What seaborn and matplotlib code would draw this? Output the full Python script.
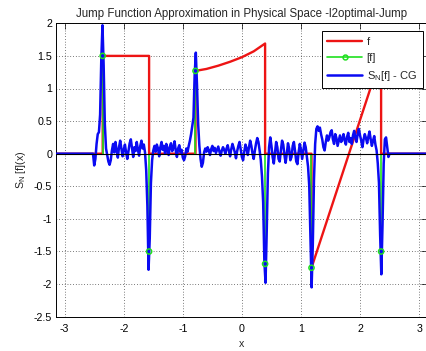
import numpy as np
import matplotlib
matplotlib.use("Agg")
import matplotlib.pyplot as plt
from matplotlib.lines import Line2D
from matplotlib.legend_handler import HandlerLine2D
import seaborn as sns

# ---------------- data ----------------
title = "Jump Function Approximation in Physical Space -l2optimal-Jump"

# f : piecewise function (x with repeated points at the jumps)
f_x = [-np.pi, -3*np.pi/4, -3*np.pi/4, -np.pi/2, -np.pi/2, -np.pi/4, -np.pi/4,
       -0.6, -0.4, -0.2, 0.0, 0.2, np.pi/8, np.pi/8, 3*np.pi/8, 3*np.pi/8,
       3*np.pi/4, 3*np.pi/4, np.pi]
f_y = [0.0, 0.0, 1.5, 1.5, 0.0, 0.0, 1.27,
       1.30, 1.35, 1.41, 1.48, 1.57, 1.69, 0.0, 0.0, -1.75,
       1.5, 0.0, 0.0]

# [f] : jump locations and jump heights
jump_x = [-3*np.pi/4, -np.pi/2, -np.pi/4, np.pi/8, 3*np.pi/8, 3*np.pi/4]
jump_h = [1.5, -1.5, 1.27, -1.69, -1.75, -1.5]

# S_N[f] - CG : samples on x = -2.52 ... 2.52, step 0.02
sn_start, sn_stop = -2.52, 2.52
sn_values = [
    0.00, -0.18, -0.08, 0.15, 0.30, 0.33, 0.60, 1.45, 1.97, 1.35, 0.45, 0.08,
    -0.02, -0.12, -0.17, -0.10, 0.05, 0.15,
    0.02, 0.18, 0.05, -0.06, 0.10, 0.20, 0.08, -0.04, 0.06, 0.14, 0.02, -0.08, 0.04,
    0.16, 0.22, 0.08, -0.05, 0.10, 0.04, 0.18, 0.06, -0.03, 0.12, 0.20, 0.08, 0.14,
    0.02, -0.25, -0.80, -1.78, -1.30, -0.45, -0.10, 0.05, 0.12,
    0.03, 0.14, 0.08, -0.04, 0.10, 0.18, 0.06, 0.12, 0.00, 0.15, 0.07, -0.02, 0.11,
    0.16, 0.04, 0.09, 0.19, 0.05, -0.05, 0.08, 0.13, 0.02,
    0.06, -0.06, -0.10, -0.04, 0.08, 0.03, 0.12, 0.20, 0.30, 0.42, 0.55, 1.20, 1.55,
    1.05, 0.45, 0.12, -0.08, -0.20, -0.14, 0.02,
    0.08, 0.03, 0.10, 0.05, -0.02, 0.07, 0.12, 0.04, 0.09, 0.01, 0.06, 0.11, 0.03,
    -0.03, 0.05, 0.10, 0.06, 0.00, 0.08, 0.13, 0.04, -0.04, 0.07, 0.15, 0.09, 0.02,
    -0.07, 0.04, 0.12, 0.18, 0.06, -0.05, -0.10, 0.03, 0.14, 0.08, -0.02, 0.10, 0.20,
    0.12, 0.00, -0.08, 0.05, 0.16, 0.24, 0.18, 0.05,
    -0.10, -0.35, -0.75, -1.65, -1.98, -1.20, -0.30, 0.10,
    0.25, 0.12, -0.05, -0.15, 0.02, 0.18, 0.10, -0.08, -0.12, 0.05, 0.20, 0.14, -0.02,
    -0.14, 0.00, 0.16, 0.08, -0.10, -0.05, 0.12, 0.18, 0.04, -0.12, -0.16, 0.02, 0.15,
    0.06, -0.08, 0.05, 0.17, 0.10, -0.05, -0.20, -0.50, -1.30,
    -2.05, -1.40, -0.40, 0.15, 0.38,
    0.42, 0.35, 0.40, 0.30, 0.22, 0.10, 0.05, 0.18, 0.28, 0.20, 0.25, 0.33, 0.36, 0.22,
    0.15, 0.30, 0.24, 0.12, 0.20, 0.28, 0.18, 0.22, 0.30, 0.20, 0.14, 0.26, 0.32, 0.18,
    0.24, 0.15, 0.28, 0.35, 0.25, 0.18, 0.30, 0.38, 0.28, 0.20, 0.10, 0.22, 0.30, 0.24,
    0.16, 0.26, 0.34, 0.22, 0.12, 0.20, 0.27, 0.14, 0.05,
    -0.15, -0.45, -1.25, -1.85, -1.10, -0.15, 0.22, 0.25, 0.10, -0.05, 0.00, 0.00,
]

x_ticks = [-3, -2, -1, 0, 1, 2, 3]
x_ticklabels = ["-3", "-2", "-1", "0", "1", "2", "3"]
y_ticks = [-2.5, -2, -1.5, -1, -0.5, 0, 0.5, 1, 1.5, 2]
y_ticklabels = ["-2.5", "-2", "-1.5", "-1", "-0.5", "0", "0.5", "1", "1.5", "2"]

legend_labels = ["f", "[f]", r"S$_\mathregular{N}$[f] - CG"]

# ---------------- style ----------------
sns.set_style("white")
plt.rcParams["font.family"] = ["Liberation Sans", "DejaVu Sans"]
plt.rcParams["mathtext.default"] = "regular"

RED = (0.93, 0.08, 0.08)
GREEN = (0.12, 0.88, 0.12)
BLUE = (0.04, 0.04, 0.95)
FS = 7.7
FS_TITLE = 8.3
FS_LEG = 8.0

W, H = 426, 351
fig = plt.figure(figsize=(W / 100, H / 100), dpi=100)
fig.patch.set_facecolor("white")
left_px, right_px, top_px, bot_px = 56.3, 427.5, 23.3, 316.7
ax = fig.add_axes([left_px / W, 1 - bot_px / H, (right_px - left_px) / W, (bot_px - top_px) / H])

# S_N[f] line, padded with zeros out to the axis limits
sn_x = np.concatenate([[-np.pi], np.linspace(sn_start, sn_stop, len(sn_values)), [np.pi]])
sn_y = np.concatenate([[0.0], sn_values, [0.0]])

# f
sns.lineplot(x=f_x, y=f_y, ax=ax, sort=False, estimator=None, color=RED,
             linewidth=1.7, zorder=2)
# [f] stems (under the blue line), markers on top
ax.vlines(jump_x, 0, jump_h, color=GREEN, linewidth=1.2, zorder=2.5)
sns.lineplot(x=sn_x, y=sn_y, ax=ax, sort=False, estimator=None, color=BLUE,
             linewidth=1.8, zorder=3)
sns.scatterplot(x=jump_x, y=jump_h, ax=ax, marker="o", s=14, facecolor="none",
                edgecolor=GREEN, linewidth=1.1, zorder=5)
ax.axhline(0, color="k", linewidth=0.8, zorder=4)

ax.set_xlim(-np.pi, np.pi)
ax.set_ylim(-2.5, 2)
ax.set_xticks(x_ticks)
ax.set_xticklabels(x_ticklabels)
ax.set_yticks(y_ticks)
ax.set_yticklabels(y_ticklabels)
ax.grid(True, color="k", linestyle=(0, (1, 3)), linewidth=0.5)
ax.tick_params(direction="in", top=True, right=True, length=4, width=0.5,
               labelsize=FS, colors="k")
ax.tick_params(axis="x", pad=5)
ax.tick_params(axis="y", pad=3)
for s in ax.spines.values():
    s.set_color("k")
    s.set_linewidth(0.7)

ax.set_title(title, fontsize=FS_TITLE, pad=4.5)
ax.set_xlabel("x", fontsize=FS, labelpad=4)
ax.set_ylabel(r"S$_\mathregular{N}$ [f](x)", fontsize=FS, labelpad=4)


class StemHandler(HandlerLine2D):
    def get_xdata(self, legend, xdescent, ydescent, width, height, fontsize):
        return [-xdescent, -xdescent + width], [-xdescent + width]


h_f = Line2D([], [], color=RED, linewidth=1.7)
h_j = Line2D([], [], color=GREEN, linewidth=1.2, marker="o", markersize=3.5,
             markerfacecolor="none", markeredgewidth=1.1)
h_s = Line2D([], [], color=BLUE, linewidth=1.8)
leg = ax.legend([h_f, h_j, h_s], legend_labels, loc="upper right",
                bbox_to_anchor=(422.7 / W, 1 - 31 / H), bbox_transform=fig.transFigure,
                borderaxespad=0, fontsize=FS_LEG, handlelength=3.15, handletextpad=0.4,
                borderpad=0.5, labelspacing=0.55, fancybox=False, framealpha=1,
                edgecolor="k", handler_map={h_j: StemHandler(numpoints=1)})
leg.get_frame().set_linewidth(0.7)
leg.set_zorder(10)

fig.savefig("out.png", dpi=100, facecolor="white")
